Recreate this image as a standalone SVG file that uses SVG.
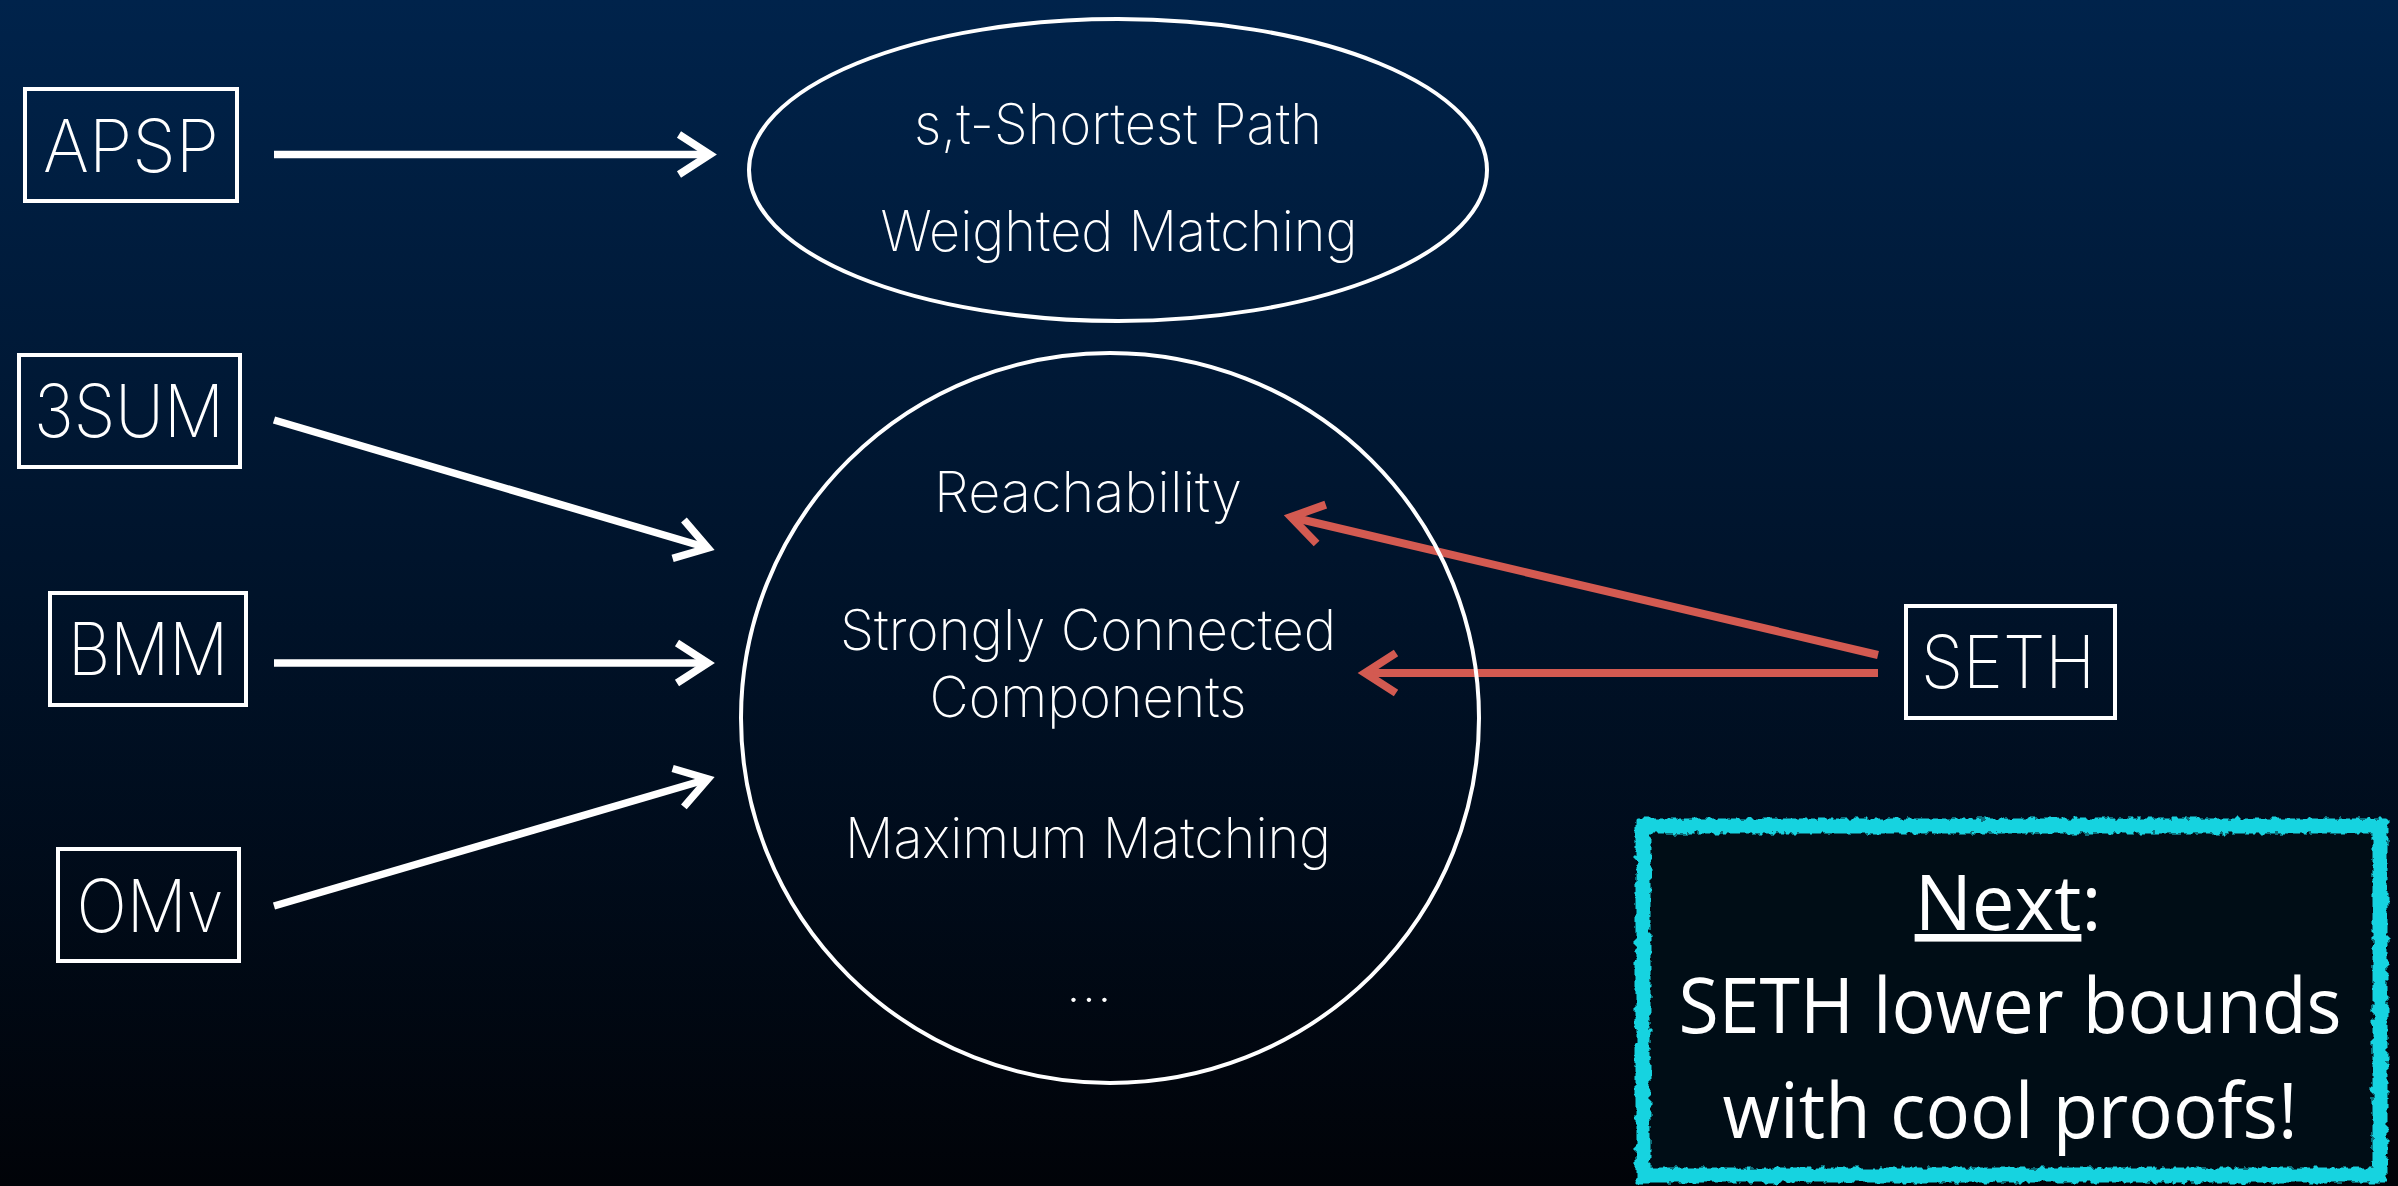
<svg xmlns="http://www.w3.org/2000/svg" width="2398" height="1186" viewBox="0 0 2398 1186">
  <defs>
    <linearGradient id="bg" x1="0" y1="0" x2="0" y2="1">
      <stop offset="0" stop-color="#00234b"/>
      <stop offset="0.5" stop-color="#00132a"/>
      <stop offset="1" stop-color="#010308"/>
    </linearGradient>
    <marker id="headW" markerUnits="userSpaceOnUse" markerWidth="60" markerHeight="60" viewBox="-40 -30 50 60" refX="0" refY="0" orient="auto">
      <path d="M -31,-20 L 0,0 L -31,20" fill="none" stroke="#ffffff" stroke-width="7.5" stroke-linejoin="miter" stroke-miterlimit="10"/>
    </marker>
    <marker id="headR" markerUnits="userSpaceOnUse" markerWidth="60" markerHeight="60" viewBox="-40 -30 50 60" refX="0" refY="0" orient="auto">
      <path d="M -31,-20 L 0,0 L -31,20" fill="none" stroke="#d35a51" stroke-width="8" stroke-linejoin="miter" stroke-miterlimit="10"/>
    </marker>
    <filter id="grunge" x="-5%" y="-5%" width="110%" height="110%">
      <feTurbulence type="fractalNoise" baseFrequency="0.15" numOctaves="2" seed="3" result="n"/>
      <feDisplacementMap in="SourceGraphic" in2="n" scale="8" xChannelSelector="R" yChannelSelector="G"/>
    </filter>
    <style>
      .box { fill: none; stroke: #ffffff; stroke-width: 4; }
      .oval { fill: none; stroke: #ffffff; stroke-width: 4; }
      .lbl { font-family: Inter, Roboto, "Liberation Sans", sans-serif; font-weight: 200; fill: #ffffff; text-anchor: middle; }
      .big { font-size: 73px; }
      .mid { font-size: 56px; }
      .wline { stroke: #ffffff; stroke-width: 7.5; fill: none; marker-end: url(#headW); }
      .rline { stroke: #d35a51; stroke-width: 8; fill: none; marker-end: url(#headR); }
      .note { font-family: "Open Sans", "Liberation Sans", sans-serif; font-size: 76px; fill: #ffffff; text-anchor: middle; }
    </style>
  </defs>

  <rect x="0" y="0" width="2398" height="1186" fill="url(#bg)"/>

  <g id="connectors">
    <line class="wline" x1="274" y1="154.5" x2="710" y2="154.5"/>
    <line class="wline" x1="274" y1="420" x2="708" y2="548"/>
    <line class="wline" x1="274" y1="663" x2="708" y2="663"/>
    <line class="wline" x1="274" y1="906" x2="708" y2="779"/>
    <line class="rline" x1="1878" y1="655" x2="1291" y2="517"/>
    <line class="rline" x1="1878" y1="673" x2="1365" y2="673"/>
  </g>

  <g id="apsp">
    <rect class="box" x="25" y="89" width="212" height="112"/>
    <text class="lbl big" x="131" y="172" textLength="176" lengthAdjust="spacingAndGlyphs">APSP</text>
  </g>

  <g id="sum3">
    <rect class="box" x="19" y="355" width="221" height="112"/>
    <text class="lbl big" x="129" y="437" textLength="190" lengthAdjust="spacingAndGlyphs">3SUM</text>
  </g>

  <g id="bmm">
    <rect class="box" x="50" y="593" width="196" height="112"/>
    <text class="lbl big" x="148" y="675" textLength="160" lengthAdjust="spacingAndGlyphs">BMM</text>
  </g>

  <g id="omv">
    <rect class="box" x="58" y="849" width="181" height="112"/>
    <text class="lbl big" x="150" y="932" textLength="147" lengthAdjust="spacingAndGlyphs">OMv</text>
  </g>

  <g id="seth">
    <rect class="box" x="1906" y="606" width="209" height="112"/>
    <text class="lbl big" x="2008" y="688" textLength="174" lengthAdjust="spacingAndGlyphs">SETH</text>
  </g>

  <g id="top-ellipse">
    <ellipse class="oval" cx="1118" cy="170" rx="369" ry="151"/>
    <text class="lbl mid" x="1118" y="144" textLength="408" lengthAdjust="spacingAndGlyphs">s,t-Shortest Path</text>
    <text class="lbl mid" x="1119" y="251" textLength="477" lengthAdjust="spacingAndGlyphs">Weighted Matching</text>
  </g>

  <g id="circle">
    <ellipse class="oval" cx="1110" cy="718" rx="369" ry="365"/>
    <text class="lbl mid" x="1088" y="512" textLength="308" lengthAdjust="spacingAndGlyphs">Reachability</text>
    <text class="lbl mid" x="1088" y="650" textLength="496" lengthAdjust="spacingAndGlyphs">Strongly Connected</text>
    <text class="lbl mid" x="1088" y="717" textLength="317" lengthAdjust="spacingAndGlyphs">Components</text>
    <text class="lbl mid" x="1088" y="858" textLength="486" lengthAdjust="spacingAndGlyphs">Maximum Matching</text>
    <text class="lbl mid" x="1089" y="1002" textLength="43" lengthAdjust="spacing">…</text>
  </g>

  <g id="next-note">
    <rect x="1643" y="826" width="737" height="349" fill="#020812" stroke="#17d3e0" stroke-width="15" filter="url(#grunge)"/>
    <text class="note" x="2008" y="930"><tspan text-decoration="underline">Next</tspan>:</text>
    <text class="note" x="2010" y="1033" textLength="663" lengthAdjust="spacingAndGlyphs">SETH lower bounds</text>
    <text class="note" x="2010" y="1138" textLength="575" lengthAdjust="spacingAndGlyphs">with cool proofs!</text>
  </g>
</svg>
